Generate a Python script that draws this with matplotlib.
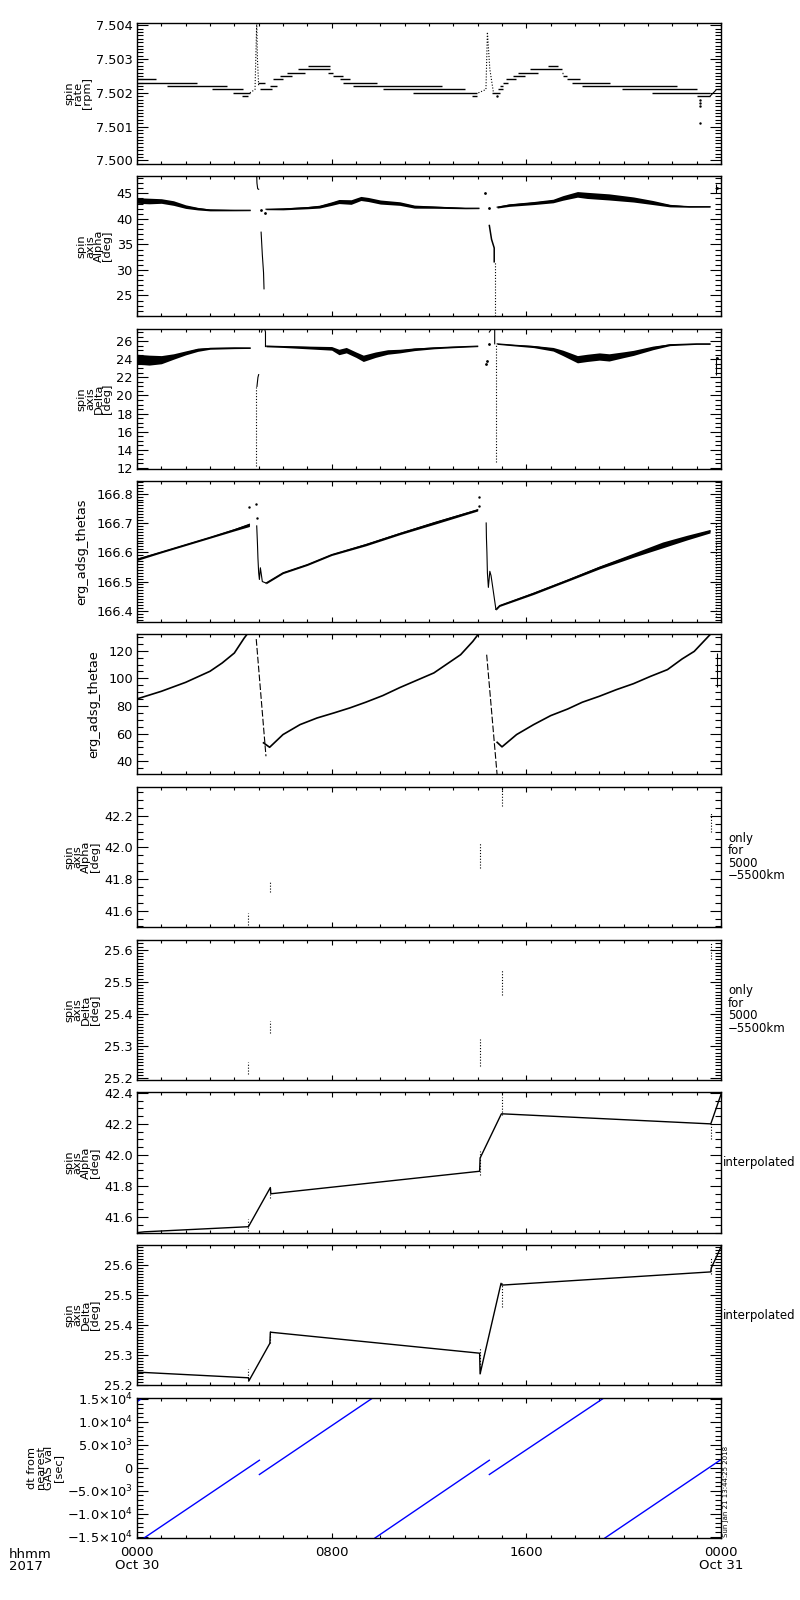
import numpy as np
import matplotlib
matplotlib.use('Agg')
import matplotlib.pyplot as plt
from matplotlib.ticker import MultipleLocator, AutoMinorLocator

plt.rcParams['font.family'] = ['DejaVu Sans']

# ---- time axis (hours from 2017-10-30 00:00) ----
xtick_hours = [0, 8, 16, 24]
xtick_labels = ['0000\nOct 30', '0800', '1600', '0000\nOct 31']

# ---- panel 1: spin rate [rpm], quantized horizontal steps ----
rate_t0 = [0.0, 0.0, 1.22, 3.07, 3.96, 4.30, 4.99, 5.06, 5.46, 5.60, 5.87, 6.15, 6.63, 7.04, 7.86, 8.07,
           8.34, 8.48, 8.89, 10.12, 11.36, 13.76, 14.60, 14.85, 14.92, 15.06, 15.17, 15.47, 15.67, 16.15,
           16.91, 17.45, 17.52, 17.66, 17.87, 18.28, 19.92, 21.15, 23.00, 23.82]
rate_t1 = [0.80, 2.45, 3.68, 4.37, 4.64, 4.58, 5.25, 5.53, 5.74, 6.01, 6.36, 6.90, 7.93, 7.93, 8.07, 8.48,
           8.75, 9.85, 12.52, 13.48, 13.96, 13.96, 14.92, 15.06, 15.06, 15.26, 15.58, 15.95, 16.49, 17.45,
           17.32, 17.52, 17.66, 18.21, 19.44, 22.18, 23.00, 23.55, 23.55, 24.0]
rate_val = [7.5024, 7.5023, 7.5022, 7.5021, 7.5020, 7.5019, 7.5023, 7.5021, 7.5022, 7.5024, 7.5025,
            7.5026, 7.5027, 7.5028, 7.5026, 7.5025, 7.5024, 7.5023, 7.5022, 7.5021, 7.5020, 7.5019,
            7.5020, 7.5021, 7.5022, 7.5023, 7.5024, 7.5025, 7.5026, 7.5027, 7.5028, 7.5026, 7.5025,
            7.5024, 7.5023, 7.5022, 7.5021, 7.5020, 7.5019, 7.5021]
rate_ramp_t = [4.64, 4.85, 4.92, 4.95, 5.00]
rate_ramp_v = [7.5020, 7.5021, 7.5041, 7.5030, 7.5022]
rate_ramp2_t = [14.03, 14.34, 14.40, 14.50, 14.65]
rate_ramp2_v = [7.5020, 7.5021, 7.5038, 7.5027, 7.5020]
rate_ramp3_t = [23.55, 23.82]
rate_ramp3_v = [7.5019, 7.5021]
rate_dots_t = [14.78, 23.14, 23.14, 23.14, 23.14]
rate_dots_v = [7.5019, 7.5018, 7.5017, 7.5016, 7.5011]

# ---- panel 2: spin axis Alpha [deg] (band centre / half width) ----
alpha1_t = [0.0, 0.5, 1.0, 1.5, 2.0, 2.5, 3.0, 4.0, 4.65]
alpha1_c = [43.6, 43.5, 43.5, 43.1, 42.4, 42.0, 41.75, 41.7, 41.7]
alpha1_w = [0.55, 0.55, 0.45, 0.45, 0.35, 0.25, 0.18, 0.12, 0.1]
alpha2_t = [5.3, 6.0, 7.0, 7.5, 8.0, 8.3, 8.8, 9.2, 9.5, 10.0, 10.8, 11.4, 12.2, 13.5, 14.05]
alpha2_c = [41.9, 41.95, 42.2, 42.4, 43.0, 43.4, 43.3, 44.0, 43.8, 43.3, 43.0, 42.4, 42.3, 42.1, 42.1]
alpha2_w = [0.1, 0.18, 0.22, 0.28, 0.35, 0.4, 0.45, 0.4, 0.4, 0.4, 0.35, 0.3, 0.22, 0.12, 0.1]
alpha3_t = [14.8, 15.3, 16.3, 17.1, 17.5, 18.1, 18.5, 19.4, 20.4, 21.2, 21.9, 22.7, 23.55]
alpha3_c = [42.3, 42.7, 43.1, 43.5, 44.1, 44.8, 44.6, 44.3, 43.8, 43.2, 42.6, 42.4, 42.4]
alpha3_w = [0.18, 0.25, 0.3, 0.35, 0.45, 0.55, 0.6, 0.6, 0.5, 0.4, 0.25, 0.12, 0.1]
alpha_hook_t = [4.92, 4.93, 4.96, 5.00]
alpha_hook_v = [48.4, 47.0, 45.9, 45.8]
alpha_drop1_t = [5.10, 5.15, 5.20, 5.22]
alpha_drop1_v = [37.4, 33.0, 29.5, 26.3]
alpha_drop2_t = [14.48, 14.57, 14.68, 14.68]
alpha_drop2_v = [38.7, 36.0, 34.3, 31.6]
alpha_dots_t = [5.10, 5.27, 14.30, 14.45, 23.85]
alpha_dots_v = [41.7, 41.1, 45.0, 42.1, 46.0]
alpha_vert_t = [14.73, 23.80]
alpha_vert_lo = [20.9, 45.1]
alpha_vert_hi = [31.6, 46.8]

# ---- panel 3: spin axis Delta [deg] ----
delta1_t = [0.0, 0.5, 1.0, 1.5, 2.0, 2.5, 3.0, 4.0, 4.65]
delta1_c = [24.0, 23.9, 23.95, 24.3, 24.7, 25.05, 25.2, 25.25, 25.25]
delta1_w = [0.55, 0.55, 0.45, 0.3, 0.22, 0.18, 0.1, 0.08, 0.06]
delta2_t = [5.3, 6.0, 7.0, 8.0, 8.3, 8.6, 9.0, 9.3, 9.8, 10.3, 10.8, 11.4, 12.2, 13.0, 14.0]
delta2_c = [25.45, 25.4, 25.3, 25.2, 24.8, 25.0, 24.5, 24.1, 24.5, 24.8, 24.9, 25.1, 25.25, 25.35, 25.45]
delta2_w = [0.08, 0.1, 0.15, 0.2, 0.3, 0.3, 0.3, 0.35, 0.3, 0.25, 0.2, 0.15, 0.1, 0.08, 0.06]
delta3_t = [14.8, 15.5, 16.3, 17.1, 17.5, 18.1, 18.5, 19.0, 19.4, 20.0, 20.4, 21.2, 21.9, 23.0, 23.55]
delta3_c = [25.7, 25.55, 25.4, 25.1, 24.7, 24.0, 24.15, 24.3, 24.2, 24.5, 24.7, 25.25, 25.6, 25.7, 25.7]
delta3_w = [0.06, 0.08, 0.12, 0.2, 0.3, 0.4, 0.4, 0.4, 0.4, 0.32, 0.28, 0.2, 0.1, 0.06, 0.06]
delta_low1_t = [4.93, 4.97, 5.00]
delta_low1_v = [21.0, 22.0, 22.3]
delta_hook1_t = [5.12, 5.15, 5.25, 5.28, 5.28]
delta_hook1_v = [27.0, 27.35, 27.3, 27.0, 25.4]
delta_hook2_t = [14.48, 14.55, 14.68, 14.70, 14.70]
delta_hook2_v = [27.0, 27.3, 27.35, 27.3, 25.7]
delta_dots_t = [14.36, 14.40, 14.45, 23.85]
delta_dots_v = [23.5, 23.8, 25.7, 24.1]
delta_vert_t = [4.90, 14.75, 23.80]
delta_vert_lo = [12.2, 12.7, 22.3]
delta_vert_hi = [21.0, 25.7, 24.3]

# ---- panel 4: erg_adsg_thetas ----
thetas1_t = [0.0, 1.0, 2.0, 3.0, 4.0, 4.62]
thetas1_c = [166.576, 166.601, 166.626, 166.651, 166.677, 166.694]
thetas1_w = [0.004, 0.003, 0.003, 0.003, 0.004, 0.006]
thetas_drop1_t = [4.92, 4.95, 4.97, 5.00, 5.03, 5.07, 5.10, 5.15, 5.30]
thetas_drop1_v = [166.690, 166.630, 166.580, 166.530, 166.507, 166.547, 166.530, 166.500, 166.495]
thetas2_t = [5.3, 6.0, 7.0, 8.0, 9.4, 10.8, 12.2, 14.0]
thetas2_c = [166.495, 166.530, 166.558, 166.592, 166.626, 166.664, 166.700, 166.745]
thetas2_w = [0.003, 0.003, 0.003, 0.003, 0.004, 0.004, 0.005, 0.004]
thetas_drop2_t = [14.35, 14.36, 14.38, 14.40, 14.44, 14.50, 14.55, 14.62, 14.75]
thetas_drop2_v = [166.700, 166.650, 166.600, 166.530, 166.480, 166.535, 166.520, 166.480, 166.405]
thetas3_t = [14.75, 14.9, 16.3, 17.7, 19.0, 20.4, 21.6, 22.6, 23.55]
thetas3_c = [166.405, 166.418, 166.460, 166.505, 166.548, 166.590, 166.625, 166.650, 166.672]
thetas3_w = [0.003, 0.003, 0.004, 0.004, 0.005, 0.007, 0.010, 0.008, 0.006]
thetas_dots_t = [4.62, 4.90, 4.92, 14.05, 14.05]
thetas_dots_v = [166.755, 166.765, 166.717, 166.789, 166.757]
thetas_vert_t = [23.80]
thetas_vert_lo = [166.38]
thetas_vert_hi = [166.70]

# ---- panel 5: erg_adsg_thetae ----
thetae1_t = [0.0, 1.0, 2.0, 3.0, 3.5, 4.0, 4.4, 4.55]
thetae1_v = [85.1, 90.6, 97.1, 105.1, 111.1, 118.3, 129.0, 132.5]
thetae_dash1_t = [4.90, 5.30]
thetae_dash1_v = [128.4, 43.6]
thetae2_t = [5.2, 5.45, 6.0, 6.7, 7.4, 8.1, 8.75, 9.4, 10.1, 10.8, 12.2, 13.3, 13.8, 14.05]
thetae2_v = [53.3, 50.1, 59.3, 66.5, 71.3, 75.0, 78.6, 82.7, 87.5, 93.3, 103.9, 117.1, 126.7, 132.5]
thetae_dash2_t = [14.37, 14.80]
thetae_dash2_v = [117.1, 30.0]
thetae3_t = [14.8, 15.0, 15.6, 16.3, 17.0, 17.7, 18.3, 19.0, 19.7, 20.4, 21.1, 21.8, 22.4, 22.9, 23.55, 23.6]
thetae3_v = [53.7, 50.4, 59.3, 66.5, 73.0, 77.8, 82.7, 87.0, 91.8, 96.1, 101.4, 106.3, 114.0, 119.5, 131.6, 132.5]
thetae_vert_t = [23.85]
thetae_vert_lo = [94.0]
thetae_vert_hi = [118.0]

# ---- panels 6/7: only for 5000-5500km (vertical point clusters) ----
near_t = [4.58, 5.48, 14.08, 14.98, 23.58]
near_alpha_lo = [41.510, 41.720, 41.870, 42.260, 42.100]
near_alpha_hi = [41.585, 41.790, 42.027, 42.370, 42.215]
near_delta_lo = [25.213, 25.340, 25.239, 25.460, 25.571]
near_delta_hi = [25.252, 25.379, 25.322, 25.540, 25.625]

# ---- panels 8/9: interpolated ----
int_alpha_t = [0.0, 0.3, 4.58, 5.48, 5.50, 14.08, 14.10, 14.96, 14.98, 23.58, 24.0]
int_alpha_v = [41.500, 41.505, 41.538, 41.790, 41.750, 41.895, 41.980, 42.260, 42.265, 42.200, 42.390]
int_delta_t = [0.0, 4.58, 4.60, 5.46, 5.48, 14.08, 14.10, 14.96, 15.00, 23.58, 23.60, 24.0]
int_delta_v = [25.243, 25.224, 25.214, 25.339, 25.376, 25.306, 25.237, 25.539, 25.533, 25.577, 25.590, 25.660]

# ---- panel 10: dt from nearest GAS val [sec] ----
dt_t = [0.0, 0.25, np.nan, 0.29, 5.03, np.nan, 5.03, 9.71, np.nan, 9.78, 14.48, np.nan,
        14.48, 19.21, np.nan, 19.23, 23.96]
dt_v = [1.44e4, 1.53e4, np.nan, -1.53e4, 1.65e3, np.nan, -1.46e3, 1.53e4, np.nan, -1.53e4, 1.65e3, np.nan,
        -1.46e3, 1.53e4, np.nan, -1.53e4, 1.65e3]
dt_ticks = [-1.5e4, -1.0e4, -5.0e3, 0, 5.0e3, 1.0e4, 1.5e4]
dt_tick_labels = [r'$-$1.5$\times$10$^{4}$', r'$-$1.0$\times$10$^{4}$', r'$-$5.0$\times$10$^{3}$', '0',
                  r'5.0$\times$10$^{3}$', r'1.0$\times$10$^{4}$', r'1.5$\times$10$^{4}$']

# ---- panel settings ----
ylabels = ['spin\nrate\n[rpm]', 'spin\naxis\nAlpha\n[deg]', 'spin\naxis\nDelta\n[deg]',
           'erg_adsg_thetas', 'erg_adsg_thetae', 'spin\naxis\nAlpha\n[deg]', 'spin\naxis\nDelta\n[deg]',
           'spin\naxis\nAlpha\n[deg]', 'spin\naxis\nDelta\n[deg]', 'dt from\nnearest\nGAS val\n[sec]']
ylims = [(7.4999, 7.50406), (20.9, 48.4), (11.87, 27.37), (166.3625, 166.842), (30.4, 132.0),
         (41.495, 42.383), (25.195, 25.632), (41.50, 42.404), (25.199, 25.667), (-1.53e4, 1.53e4)]
ymajor = [0.001, 5, 2, 0.1, 20, 0.2, 0.1, 0.2, 0.1, 5e3]
yminor = [10, 5, 4, 10, 4, 4, 10, 4, 10, 5]
yfmt = ['%.3f', '%d', '%d', '%.1f', '%d', '%.1f', '%.1f', '%.1f', '%.1f', None]
side_text = [None, None, None, None, None, 'only\nfor\n5000\n\u22125500km', 'only\nfor\n5000\n\u22125500km',
             'interpolated', 'interpolated', None]

W, H = 800, 1600
fig = plt.figure(figsize=(8, 16), dpi=100)

ax_left, ax_right = 137, 721
top0, step, height = 23.3, 152.7, 140.4
axes = []
for i in range(10):
    top = top0 + i * step
    ax = fig.add_axes([ax_left / W, 1 - (top + height) / H, (ax_right - ax_left) / W, height / H])
    axes.append(ax)

lw = 0.8
dot = (0, (1, 1.6))


# function: draw a noisy band as filled strip between centre-width and centre+width
def band(ax, t, c, w):
    c = np.asarray(c)
    w = np.asarray(w)
    ax.fill_between(t, c - w, c + w, color='k', lw=0)
    ax.plot(t, c, color='k', lw=lw)


# panel 1
ax = axes[0]
ax.hlines(rate_val, rate_t0, rate_t1, color='k', lw=1.0)
ax.plot(rate_ramp_t, rate_ramp_v, color='k', lw=lw, ls=dot)
ax.plot(rate_ramp2_t, rate_ramp2_v, color='k', lw=lw, ls=dot)
ax.plot(rate_ramp3_t, rate_ramp3_v, color='k', lw=lw)
ax.plot(rate_dots_t, rate_dots_v, 'k.', ms=1.5)

# panel 2
ax = axes[1]
band(ax, alpha1_t, alpha1_c, alpha1_w)
band(ax, alpha2_t, alpha2_c, alpha2_w)
band(ax, alpha3_t, alpha3_c, alpha3_w)
ax.plot(alpha_hook_t, alpha_hook_v, color='k', lw=lw)
ax.plot(alpha_drop1_t, alpha_drop1_v, color='k', lw=lw)
ax.plot(alpha_drop2_t, alpha_drop2_v, color='k', lw=1.1)
ax.plot(alpha_dots_t, alpha_dots_v, 'k.', ms=2)
ax.vlines(alpha_vert_t, alpha_vert_lo, alpha_vert_hi, color='k', lw=lw, linestyles=[dot, 'solid'])

# panel 3
ax = axes[2]
band(ax, delta1_t, delta1_c, delta1_w)
band(ax, delta2_t, delta2_c, delta2_w)
band(ax, delta3_t, delta3_c, delta3_w)
ax.plot(delta_low1_t, delta_low1_v, color='k', lw=lw)
ax.plot(delta_hook1_t, delta_hook1_v, color='k', lw=lw)
ax.plot(delta_hook2_t, delta_hook2_v, color='k', lw=lw)
ax.plot(delta_dots_t, delta_dots_v, 'k.', ms=2)
ax.vlines(delta_vert_t, delta_vert_lo, delta_vert_hi, color='k', lw=lw, linestyles=[dot, dot, 'solid'])

# panel 4
ax = axes[3]
band(ax, thetas1_t, thetas1_c, thetas1_w)
band(ax, thetas2_t, thetas2_c, thetas2_w)
band(ax, thetas3_t, thetas3_c, thetas3_w)
ax.plot(thetas_drop1_t, thetas_drop1_v, color='k', lw=lw)
ax.plot(thetas_drop2_t, thetas_drop2_v, color='k', lw=lw)
ax.plot(thetas_dots_t, thetas_dots_v, 'k.', ms=1.5)
ax.vlines(thetas_vert_t, thetas_vert_lo, thetas_vert_hi, color='k', lw=lw, linestyles=[dot])

# panel 5
ax = axes[4]
ax.plot(thetae1_t, thetae1_v, color='k', lw=1.2)
ax.plot(thetae2_t, thetae2_v, color='k', lw=1.2)
ax.plot(thetae3_t, thetae3_v, color='k', lw=1.2)
ax.plot(thetae_dash1_t, thetae_dash1_v, color='k', lw=lw, ls=(0, (6, 2)))
ax.plot(thetae_dash2_t, thetae_dash2_v, color='k', lw=lw, ls=(0, (6, 2)))
ax.vlines(thetae_vert_t, thetae_vert_lo, thetae_vert_hi, color='k', lw=lw)

# panels 6, 7
axes[5].vlines(near_t, near_alpha_lo, near_alpha_hi, color='k', lw=lw, linestyles=[dot])
axes[6].vlines(near_t, near_delta_lo, near_delta_hi, color='k', lw=lw, linestyles=[dot])

# panels 8, 9
axes[7].plot(int_alpha_t, int_alpha_v, color='k', lw=1.0)
axes[7].vlines(near_t, near_alpha_lo, near_alpha_hi, color='k', lw=lw, linestyles=[dot])
axes[8].plot(int_delta_t, int_delta_v, color='k', lw=1.0)
axes[8].vlines(near_t, near_delta_lo, near_delta_hi, color='k', lw=lw, linestyles=[dot])

# panel 10
axes[9].plot(dt_t, dt_v, color='#0000ff', lw=1.0)

# axes styling
for i, ax in enumerate(axes):
    ax.set_xlim(0, 24)
    ax.set_ylim(*ylims[i])
    ax.xaxis.set_major_locator(MultipleLocator(8))
    ax.xaxis.set_minor_locator(MultipleLocator(1))
    ax.yaxis.set_major_locator(MultipleLocator(ymajor[i]))
    ax.yaxis.set_minor_locator(AutoMinorLocator(yminor[i]))
    ax.tick_params(which='both', direction='in', top=True, right=True, labelsize=9.3, width=0.8)
    ax.tick_params(axis='y', which='major', length=8, pad=3)
    ax.tick_params(axis='y', which='minor', length=4)
    ax.tick_params(axis='x', which='major', length=3.6, pad=6)
    ax.tick_params(axis='x', which='minor', length=1.9)
    for sp in ax.spines.values():
        sp.set_linewidth(1.0)
    if yfmt[i] is not None:
        ax.yaxis.set_major_formatter(plt.FormatStrFormatter(yfmt[i]))
    if '\n' in ylabels[i]:
        ax.set_ylabel(ylabels[i], fontsize=8.2, linespacing=0.82, labelpad=3)
    else:
        ax.set_ylabel(ylabels[i], fontsize=9.3, labelpad=6)
    if side_text[i] is not None:
        ax.text(1.003 if side_text[i] == 'interpolated' else 1.012, 0.5, side_text[i],
                transform=ax.transAxes, ha='left', va='center', fontsize=8.5, linespacing=0.95)
    if i < 9:
        ax.set_xticklabels([])

axes[9].set_yticks(dt_ticks)
axes[9].set_yticklabels(dt_tick_labels)
axes[9].set_xticks(xtick_hours)
axes[9].set_xticklabels(xtick_labels, fontsize=9.5, linespacing=0.95)

fig.text(9 / W, 1 - 1548 / H, 'hhmm\n2017', ha='left', va='top', fontsize=9.5, linespacing=0.95)
fig.text(726 / W, 1 - 1537 / H, 'Sun Jan 21 13:44:25 2018', rotation=90, ha='center', va='bottom', fontsize=5)

fig.savefig('out.png', dpi=100)
